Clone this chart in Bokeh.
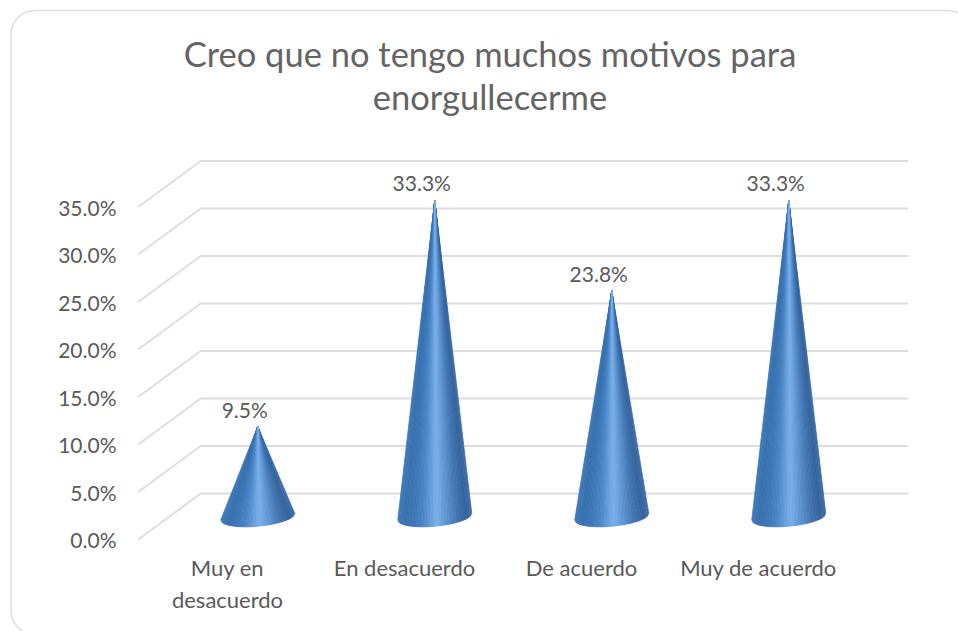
from bokeh.plotting import figure
from bokeh.models import BoxAnnotation, FixedTicker, Label, LinearAxis, PrintfTickFormatter, Range1d
from bokeh.core.properties import value
from bokeh.embed import file_html
from bokeh.resources import INLINE
import numpy as np

title_lines = ["Creo que no tengo muchos motivos para", "enorgullecerme"]
categories = ["Muy en\ndesacuerdo", "En desacuerdo", "De acuerdo", "Muy de acuerdo"]
percent_values = [9.5, 33.3, 23.8, 33.3]
y_ticks = [0, 5, 10, 15, 20, 25, 30, 35]

FONT = "Lato"
TEXT = "#595959"
GRID = "#dddddd"
W, H = 958, 631
PX_X = 177.0   # px per category
PX_Y = 9.5     # px per percent
ZERO_X_PX, ZERO_Y_PX = 227, 539
DEPTH_X = 62.5 / PX_X
DEPTH_Y = 46.0 / PX_Y
CONE_DX = 60.5 / PX_X
CONE_DY = 45.5 / PX_Y
GRID_START_PX = 137.7
GRID_END_PX = 908
AXIS_X_PX = 130
AXIS_Y_PX = 545
CONE_A = 37.0 / PX_X
CONE_B = 9.5 / PX_Y
CONE_SKEW = 3.3 / PX_Y

STOPS_U = [-1.0, -0.8, -0.55, -0.3, 0.05, 0.3, 0.6, 0.85, 1.0]
STOPS_R = [0x40, 0x38, 0x3e, 0x4c, 0x78, 0x5f, 0x42, 0x34, 0x40]
STOPS_G = [0x7c, 0x72, 0x78, 0x88, 0xae, 0x95, 0x76, 0x64, 0x72]
STOPS_B = [0xbb, 0xae, 0xb8, 0xc8, 0xea, 0xd2, 0xb2, 0x9c, 0xaa]


def data_x(px):
    return (px - ZERO_X_PX) / PX_X


def data_y(py):
    return (ZERO_Y_PX - py) / PX_Y


p = figure(width=W, height=H, output_backend="svg", toolbar_location=None,
           x_range=Range1d(data_x(0), data_x(W)), y_range=Range1d(data_y(H), data_y(0)),
           x_axis_location=None, y_axis_location=None, min_border=0,
           outline_line_color=None, background_fill_color="white", border_fill_color="white")
p.grid.visible = False

xaxis = LinearAxis(fixed_location=data_y(AXIS_Y_PX),
                   ticker=FixedTicker(ticks=list(range(len(categories)))),
                   major_label_overrides={i: c for i, c in enumerate(categories)},
                   major_label_text_font_size="22px", major_label_standoff=8)
yaxis = LinearAxis(fixed_location=data_x(AXIS_X_PX),
                   ticker=FixedTicker(ticks=y_ticks),
                   formatter=PrintfTickFormatter(format="%.1f%%"),
                   major_label_text_font_size="21px", major_label_standoff=14)
for ax in (xaxis, yaxis):
    ax.axis_line_color = None
    ax.major_tick_line_color = None
    ax.major_tick_out = 0
    ax.minor_tick_line_color = None
    ax.major_label_text_font = FONT
    ax.major_label_text_color = TEXT
p.add_layout(xaxis, "below")
p.add_layout(yaxis, "left")

for line, y in zip(title_lines, [53, 96]):
    p.add_layout(Label(x=489.5, y=H - y, x_units="screen", y_units="screen", text=line,
                       text_align="center", text_baseline="middle", text_font=FONT,
                       text_font_size="34.5px", text_color="#646464", level="overlay"))

p.add_layout(BoxAnnotation(left=10.5, right=971, top=H - 10, bottom=H - 634,
                           left_units="screen", right_units="screen",
                           top_units="screen", bottom_units="screen",
                           border_radius=24, fill_alpha=0, line_alpha=1,
                           line_color=GRID, line_width=1.5, level="overlay"))

x0 = data_x(GRID_START_PX)
x1 = data_x(GRID_END_PX)
grid_xs = [[x0, x0 + DEPTH_X, x1] for _ in y_ticks]
grid_ys = [[t, t + DEPTH_Y, t + DEPTH_Y] for t in y_ticks]
p.multi_line(grid_xs, grid_ys, line_color=GRID, line_width=2)


def cone(cx, v):
    cx = cx + CONE_DX / 2
    cy = CONE_DY / 2
    edges = np.linspace(-1, 1, 49)
    slices = []
    for a, b in zip(edges[:-1], edges[1:]):
        sa, sb = np.sqrt(1 - a * a), np.sqrt(1 - b * b)
        u = (a + b) / 2
        col = "#%02x%02x%02x" % (int(np.interp(u, STOPS_U, STOPS_R)),
                                 int(np.interp(u, STOPS_U, STOPS_G)),
                                 int(np.interp(u, STOPS_U, STOPS_B)))
        slices.append((abs(u - 0.05),
                       [cx, cx + CONE_A * a, cx + CONE_A * b],
                       [cy + v, cy - CONE_B * sa + CONE_SKEW * a, cy - CONE_B * sb + CONE_SKEW * b],
                       col))
    slices.sort(key=lambda s: -s[0])
    return [s[1] for s in slices], [s[2] for s in slices], [s[3] for s in slices]


for i, v in enumerate(percent_values):
    xs, ys, cols = cone(i, v)
    p.patches(xs, ys, fill_color=cols, line_color=cols, line_width=0.8)

p.text([i + CONE_DX / 2 for i in range(len(categories))],
       [CONE_DY / 2 + v for v in percent_values],
       text=[f"{v:.1f}%" for v in percent_values],
       text_font=value(FONT), text_font_size="21px", text_color=TEXT,
       text_align="center", text_baseline="middle", x_offset=-13, y_offset=-17.5)

open("out.html", "w").write(file_html(p, INLINE))
